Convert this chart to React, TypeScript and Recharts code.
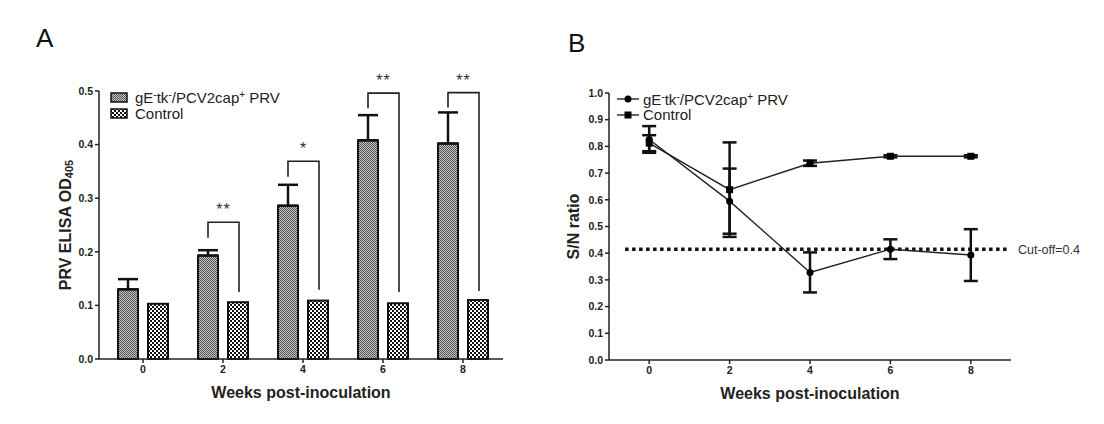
import React from 'react';
import { BarChart, Bar, LineChart, Line, XAxis, YAxis, ErrorBar, ReferenceLine, Label } from 'recharts';

const FONT = "'Liberation Sans', Arial, sans-serif";
const INK = '#222';

// Panel A: PRV ELISA OD405
const weeks = ['0', '2', '4', '6', '8'];
const gEOD = [0.13, 0.193, 0.286, 0.408, 0.402];
const gEODErr = [0.019, 0.01, 0.039, 0.047, 0.058];
const controlOD = [0.103, 0.106, 0.109, 0.104, 0.11];
const bracketTop = [0, 0.255, 0.369, 0.496, 0.497];
const bracketLeftEnd = [0, 0.226, 0.34, 0.468, 0.469];
const bracketRightEnd = [0, 0.125, 0.129, 0.125, 0.127];
const stars = ['', '**', '*', '**', '**'];
const odTicks = [0, 0.1, 0.2, 0.3, 0.4, 0.5];

// Panel B: S/N ratio
const weeksB = [0, 2, 4, 6, 8];
const gESN = [0.826, 0.595, 0.328, 0.415, 0.393];
const gESNErr = [0.05, 0.122, 0.075, 0.037, 0.097];
const controlSN = [0.812, 0.638, 0.737, 0.763, 0.763];
const controlSNErr = [0.03, 0.177, 0.01, 0.004, 0.004];
const snTicks = [0, 0.1, 0.2, 0.3, 0.4, 0.5, 0.6, 0.7, 0.8, 0.9, 1.0];
const cutOff = 0.415;

const BAR_SIZE = 20;
const BAR_GAP = 10;

const barData = weeks.map((w, i) => ({
  week: w,
  gE: gEOD[i],
  gEErr: [0, gEODErr[i]],
  control: controlOD[i],
  bTop: bracketTop[i],
  bLeft: bracketLeftEnd[i],
  bRight: bracketRightEnd[i],
  stars: stars[i],
}));

const lineData = weeksB.map((w, i) => ({
  week: w,
  gE: gESN[i],
  gEErr: gESNErr[i],
  control: controlSN[i],
  controlErr: controlSNErr[i],
}));

const tickStyle = { fill: INK, fontSize: 10.5, fontWeight: 'bold', fontFamily: FONT };

const Patterns = () => (
  <svg width={0} height={0} style={{ position: 'absolute' }}>
    <defs>
      <pattern id="patGE" width={2} height={2} patternUnits="userSpaceOnUse">
        <rect width={2} height={2} fill="#c4c4c4" />
        <rect width={1} height={1} fill="#555" />
        <rect x={1} y={1} width={1} height={1} fill="#555" />
      </pattern>
      <pattern id="patCtrl" width={4} height={4} patternUnits="userSpaceOnUse">
        <rect width={4} height={4} fill="#111" />
        <rect width={2} height={2} fill="#fff" />
        <rect x={2} y={2} width={2} height={2} fill="#fff" />
      </pattern>
    </defs>
  </svg>
);

const GEBarShape = (props: any) => {
  const { x, y, width, height } = props;
  return <rect x={x} y={y} width={width} height={height} fill="url(#patGE)" stroke="#111" strokeWidth={2} />;
};

// control bar plus the significance bracket that joins it to the gE bar
const ControlBarShape = (props: any) => {
  const { x, y, width, height, payload } = props;
  const rect = <rect x={x} y={y} width={width} height={height} fill="url(#patCtrl)" stroke="#111" strokeWidth={2} />;
  if (!payload || !payload.stars) return rect;
  const base = y + height;
  const k = height / payload.control;
  const yOf = (v: number) => base - v * k;
  const lx = x - BAR_GAP - width / 2;
  const rx = x + width / 2 + 1;
  const top = yOf(payload.bTop);
  return (
    <g>
      {rect}
      <path
        d={`M${lx},${yOf(payload.bLeft)} V${top} H${rx} V${yOf(payload.bRight)}`}
        fill="none"
        stroke={INK}
        strokeWidth={1.6}
      />
      <text x={(lx + rx) / 2} y={top - 7} textAnchor="middle" fontSize={16} fontFamily={FONT} fill="#333" letterSpacing={1}>
        {payload.stars}
      </text>
    </g>
  );
};

const XTitle = (props: any) => {
  const vb = props.viewBox || { x: 0, y: 0, width: 0 };
  return (
    <text x={vb.x + vb.width / 2} y={vb.y + 33} textAnchor="middle" dominantBaseline="central" fontSize={16} fontWeight="bold" fontFamily={FONT} fill={INK}>
      Weeks post-inoculation
    </text>
  );
};

const makeYTitle = (dx: number, sub: boolean) => (props: any) => {
  const vb = props.viewBox || { x: 0, y: 0, height: 0 };
  const cx = vb.x + dx;
  const cy = vb.y + vb.height / 2;
  return (
    <text x={cx} y={cy} transform={`rotate(-90 ${cx} ${cy})`} textAnchor="middle" dominantBaseline="central" fontSize={16} fontWeight="bold" fontFamily={FONT} fill={INK}>
      {sub ? (
        <>
          PRV ELISA OD<tspan fontSize={11} dy={4}>405</tspan>
        </>
      ) : (
        'S/N ratio'
      )}
    </text>
  );
};

const Sup = ({ c }: { c: string }) => (
  <span style={{ fontSize: 10, position: 'relative', top: -5 }}>{c}</span>
);

const legendName = (
  <span>
    gE<Sup c="-" />tk<Sup c="-" />/PCV2cap<Sup c="+" /> PRV
  </span>
);

const CircleDot = (p: any) => <circle key={`c${p.index}`} cx={p.cx} cy={p.cy} r={3.5} fill="#000" />;
const SquareDot = (p: any) => <rect key={`s${p.index}`} x={p.cx - 3.5} y={p.cy - 3.5} width={7} height={7} fill="#000" />;

const rowStyle: React.CSSProperties = { display: 'flex', alignItems: 'center', height: 15.5, whiteSpace: 'nowrap' };

export default function App() {
  return (
    <div style={{ position: 'absolute', left: 0, top: 0, width: 1104, height: 424, background: '#fff', fontFamily: FONT, color: INK }}>
      <Patterns />
      <div style={{ position: 'absolute', left: 36, top: 25, fontSize: 26, lineHeight: '26px', color: '#111' }}>A</div>
      <div style={{ position: 'absolute', left: 568, top: 30, fontSize: 26, lineHeight: '26px', color: '#111' }}>B</div>

      <div style={{ position: 'absolute', left: 0, top: 0 }}>
        <BarChart width={552} height={424} data={barData} margin={{ top: 91, right: 49, left: 49, bottom: 25 }} barSize={BAR_SIZE} barGap={BAR_GAP}>
          <XAxis dataKey="week" height={40} padding={{ left: 4, right: 0 }} tick={tickStyle} tickSize={4} tickMargin={3} axisLine={{ stroke: INK, strokeWidth: 1.5 }} tickLine={{ stroke: INK, strokeWidth: 1.5 }}>
            <Label content={<XTitle />} />
          </XAxis>
          <YAxis width={50} domain={[0, 0.5]} ticks={odTicks} tickFormatter={(v: number) => v.toFixed(1)} tick={tickStyle} tickSize={4} tickMargin={2} axisLine={{ stroke: INK, strokeWidth: 1.5 }} tickLine={{ stroke: INK, strokeWidth: 1.5 }}>
            <Label content={makeYTitle(16, true)} />
          </YAxis>
          <Bar dataKey="gE" shape={GEBarShape} isAnimationActive={false}>
            <ErrorBar dataKey="gEErr" width={10} stroke="#111" strokeWidth={2.5} direction="y" />
          </Bar>
          <Bar dataKey="control" shape={ControlBarShape} isAnimationActive={false} />
        </BarChart>
      </div>

      <div style={{ position: 'absolute', left: 110, top: 90, fontSize: 15 }}>
        <div style={rowStyle}>
          <svg width={18} height={11} style={{ marginRight: 7 }}>
            <rect x={1} y={1} width={16} height={9} fill="url(#patGE)" stroke="#111" strokeWidth={1.5} />
          </svg>
          {legendName}
        </div>
        <div style={rowStyle}>
          <svg width={18} height={11} style={{ marginRight: 7 }}>
            <rect x={1} y={1} width={16} height={9} fill="url(#patCtrl)" stroke="#111" strokeWidth={1.5} />
          </svg>
          Control
        </div>
      </div>

      <div style={{ position: 'absolute', left: 556, top: 0 }}>
        <LineChart width={548} height={424} data={lineData} margin={{ top: 93, right: 93, left: 23, bottom: 24 }}>
          <XAxis dataKey="week" type="number" domain={[-1, 9]} ticks={weeksB} height={40} tick={tickStyle} tickSize={4} tickMargin={3} axisLine={{ stroke: INK, strokeWidth: 1.5 }} tickLine={{ stroke: INK, strokeWidth: 1.5 }}>
            <Label content={<XTitle />} />
          </XAxis>
          <YAxis width={30} domain={[0, 1]} ticks={snTicks} tickFormatter={(v: number) => v.toFixed(1)} tick={tickStyle} tickSize={4} tickMargin={2} axisLine={{ stroke: INK, strokeWidth: 1.5 }} tickLine={{ stroke: INK, strokeWidth: 1.5 }}>
            <Label content={makeYTitle(-6, false)} />
          </YAxis>
          <ReferenceLine
            segment={[{ x: -0.6, y: cutOff }, { x: 8.9, y: cutOff }]}
            stroke="#111"
            strokeWidth={3.5}
            strokeDasharray="3.5 3.5"
            ifOverflow="visible"
            label={{ value: 'Cut-off=0.4', position: 'right', offset: 11, fill: '#333', fontSize: 12.5, fontFamily: FONT }}
          />
          <Line dataKey="control" type="linear" stroke={INK} strokeWidth={1.4} dot={SquareDot} activeDot={false} isAnimationActive={false}>
            <ErrorBar dataKey="controlErr" width={7} stroke="#111" strokeWidth={2.5} direction="y" />
          </Line>
          <Line dataKey="gE" type="linear" stroke={INK} strokeWidth={1.4} dot={CircleDot} activeDot={false} isAnimationActive={false}>
            <ErrorBar dataKey="gEErr" width={7} stroke="#111" strokeWidth={2.5} direction="y" />
          </Line>
        </LineChart>
      </div>

      <div style={{ position: 'absolute', left: 617, top: 91.5, fontSize: 15 }}>
        <div style={rowStyle}>
          <svg width={22} height={10} style={{ marginRight: 4 }}>
            <line x1={0} y1={5} x2={22} y2={5} stroke={INK} strokeWidth={1.4} />
            <circle cx={11} cy={5} r={3.5} fill="#000" />
          </svg>
          {legendName}
        </div>
        <div style={rowStyle}>
          <svg width={22} height={10} style={{ marginRight: 4 }}>
            <line x1={0} y1={5} x2={22} y2={5} stroke={INK} strokeWidth={1.4} />
            <rect x={7.5} y={1.5} width={7} height={7} fill="#000" />
          </svg>
          Control
        </div>
      </div>
    </div>
  );
}
